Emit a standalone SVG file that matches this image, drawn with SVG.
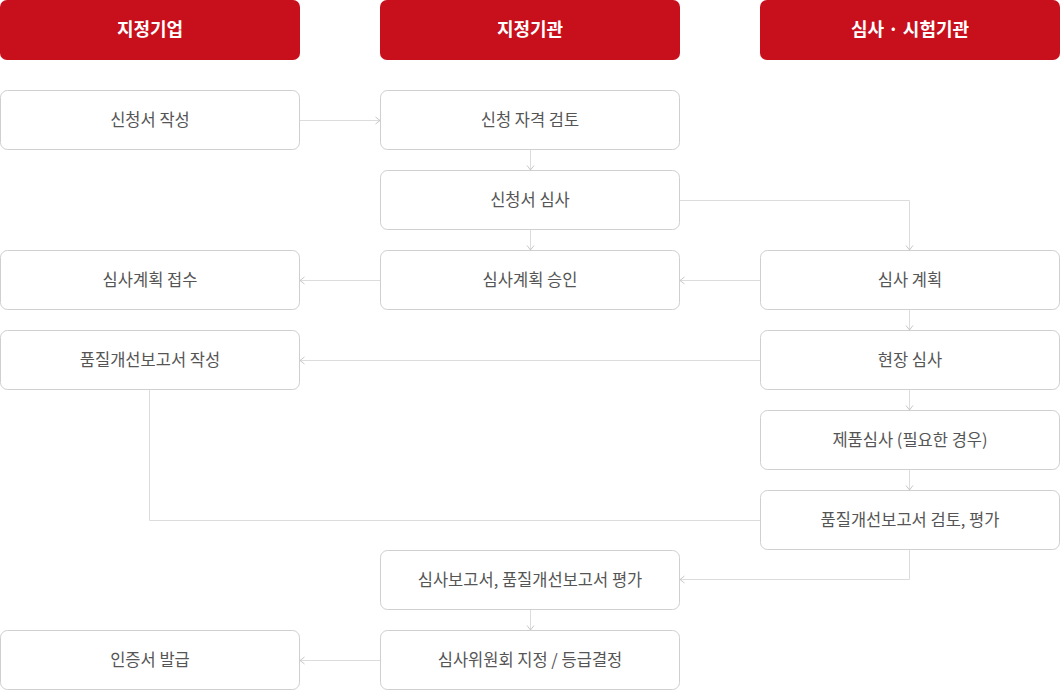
<svg xmlns="http://www.w3.org/2000/svg" width="1060" height="690" viewBox="0 0 1060 690">
<defs>
<marker id="arr" viewBox="0 0 10 10" refX="9.5" refY="5" markerWidth="10" markerHeight="10" markerUnits="userSpaceOnUse" orient="auto">
<path d="M5,1.5 L9.5,5 L5,8.5" fill="none" stroke="#c8c8c8" stroke-width="1"/>
</marker>
<style>
.hd{fill:#c80f1c}
.ht{fill:#fff;font-family:"Noto Sans CJK KR","Noto Sans",sans-serif;font-size:18px;font-weight:700;text-anchor:middle}
.bx{fill:#fff;stroke:#cfcfcf;stroke-width:1}
.tx{fill:#555;font-family:"Noto Sans CJK KR","Noto Sans",sans-serif;font-size:16.5px;text-anchor:middle}
.ln{fill:none;stroke:#dcdcdc;stroke-width:1}
.ar{marker-end:url(#arr)}
</style>
</defs>
<rect width="1060" height="690" fill="#fff"/>
<g id="connectors">
<path class="ln ar" d="M300,120.5 H380"/>
<path class="ln ar" d="M530.5,150 V170"/>
<path class="ln ar" d="M680,200.5 H909.5 V250"/>
<path class="ln ar" d="M530.5,230 V250"/>
<path class="ln ar" d="M760,280.5 H680"/>
<path class="ln ar" d="M380,280.5 H300"/>
<path class="ln ar" d="M909.5,310 V330"/>
<path class="ln ar" d="M760,360.5 H300"/>
<path class="ln ar" d="M909.5,390 V410"/>
<path class="ln ar" d="M909.5,470 V490"/>
<path class="ln" d="M149.5,390 V520.5 H760"/>
<path class="ln ar" d="M909.5,550 V579.5 H680"/>
<path class="ln ar" d="M530.5,610 V630"/>
<path class="ln ar" d="M380,660.5 H300"/>
</g>
<g id="h1"><rect class="hd" x="0" y="0" width="300" height="60" rx="7"/><text class="ht" x="150" y="35.5">지정기업</text></g>
<g id="h2"><rect class="hd" x="380" y="0" width="300" height="60" rx="7"/><text class="ht" x="530" y="35.5">지정기관</text></g>
<g id="h3"><rect class="hd" x="760" y="0" width="300" height="60" rx="7"/><text class="ht" x="910" y="35.5">심사 · 시험기관</text></g>
<g id="n1"><rect class="bx" x="0.5" y="90.5" width="299" height="59" rx="7"/><text class="tx" x="150" y="125.5">신청서 작성</text></g>
<g id="n2"><rect class="bx" x="380.5" y="90.5" width="299" height="59" rx="7"/><text class="tx" x="530" y="125.5">신청 자격 검토</text></g>
<g id="n3"><rect class="bx" x="380.5" y="170.5" width="299" height="59" rx="7"/><text class="tx" x="530" y="205.5">신청서 심사</text></g>
<g id="n4"><rect class="bx" x="0.5" y="250.5" width="299" height="59" rx="7"/><text class="tx" x="150" y="285.5">심사계획 접수</text></g>
<g id="n5"><rect class="bx" x="380.5" y="250.5" width="299" height="59" rx="7"/><text class="tx" x="530" y="285.5">심사계획 승인</text></g>
<g id="n6"><rect class="bx" x="760.5" y="250.5" width="299" height="59" rx="7"/><text class="tx" x="910" y="285.5">심사 계획</text></g>
<g id="n7"><rect class="bx" x="0.5" y="330.5" width="299" height="59" rx="7"/><text class="tx" x="150" y="365.5">품질개선보고서 작성</text></g>
<g id="n8"><rect class="bx" x="760.5" y="330.5" width="299" height="59" rx="7"/><text class="tx" x="910" y="365.5">현장 심사</text></g>
<g id="n9"><rect class="bx" x="760.5" y="410.5" width="299" height="59" rx="7"/><text class="tx" x="910" y="445.5">제품심사 (필요한 경우)</text></g>
<g id="n10"><rect class="bx" x="760.5" y="490.5" width="299" height="59" rx="7"/><text class="tx" x="910" y="525.5">품질개선보고서 검토, 평가</text></g>
<g id="n11"><rect class="bx" x="380.5" y="550.5" width="299" height="59" rx="7"/><text class="tx" x="530" y="585.5">심사보고서, 품질개선보고서 평가</text></g>
<g id="n12"><rect class="bx" x="0.5" y="630.5" width="299" height="59" rx="7"/><text class="tx" x="150" y="665.5">인증서 발급</text></g>
<g id="n13"><rect class="bx" x="380.5" y="630.5" width="299" height="59" rx="7"/><text class="tx" x="530" y="665.5">심사위원회 지정 / 등급결정</text></g>
</svg>
